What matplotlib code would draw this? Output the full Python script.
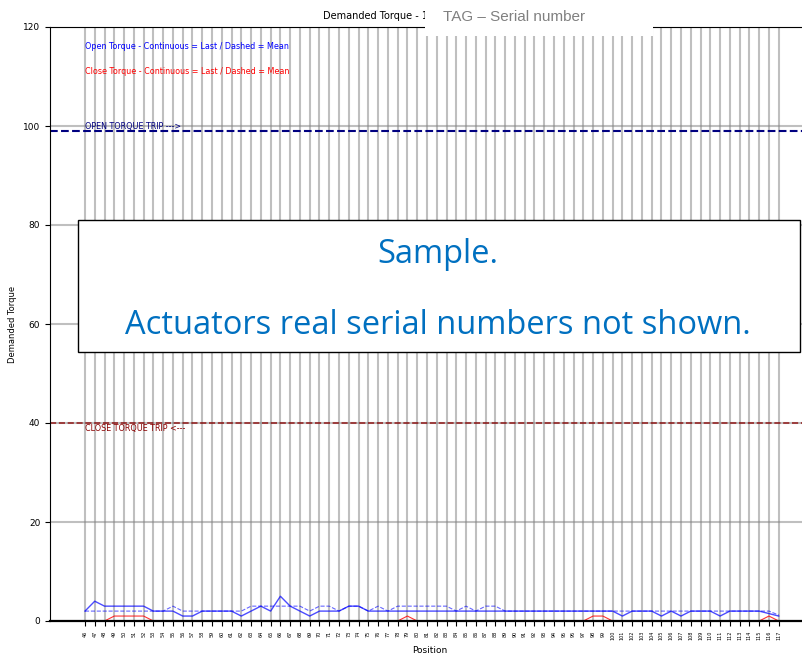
import matplotlib
matplotlib.use("Agg")
import matplotlib.pyplot as plt
from matplotlib.patches import Rectangle

positions = list(range(46, 118))

# open torque: last (continuous) and mean (dashed)
open_last = [2, 4, 3, 3, 3, 3, 3, 2, 2, 2, 1, 1, 2, 2, 2, 2, 1, 2, 3, 2, 5, 3, 2, 1,
             2, 2, 2, 3, 3, 2, 2, 2, 2, 2, 2, 2, 2, 2, 2, 2, 2, 2, 2, 2, 2, 2, 2, 2,
             2, 2, 2, 2, 2, 2, 2, 1, 2, 2, 2, 1, 2, 1, 2, 2, 2, 1, 2, 2, 2, 2, 1.5, 1]
open_mean = [2, 2, 2, 2, 2, 2, 2, 2, 2, 3, 2, 2, 2, 2, 2, 2, 2, 3, 3, 3, 3, 3, 3, 2,
             3, 3, 2, 3, 3, 2, 3, 2, 3, 3, 3, 3, 3, 3, 2, 3, 2, 3, 3, 2, 2, 2, 2, 2,
             2, 2, 2, 2, 2, 2, 2, 2, 2, 2, 2, 2, 2, 2, 2, 2, 2, 2, 2, 2, 2, 2, 2, 1.2]
# close torque
close_last = [0, 0, 0, 1, 1, 1, 1, 0, 0, 0, 0, 0, 0, 0, 0, 0, 0, 0, 0, 0, 0, 0, 0, 0,
              0, 0, 0, 0, 0, 0, 0, 0, 0, 1, 0, 0, 0, 0, 0, 0, 0, 0, 0, 0, 0, 0, 0, 0,
              0, 0, 0, 0, 1, 1, 0, 0, 0, 0, 0, 0, 0, 0, 0, 0, 0, 0, 0, 0, 0, 0, 1, 0]
close_mean = [0] * len(positions)

open_trip = 99
close_trip = 40

x = list(range(len(positions)))

fig = plt.figure(figsize=(8.03, 6.57), dpi=100)
ax = fig.add_axes([50/803, 36/657, 760/803, 594/657])

ax.plot(x, close_mean, color='red', lw=0.8, ls='--', alpha=0.8, zorder=1)
ax.plot(x, close_last, color='red', lw=0.8, alpha=0.8, zorder=1)
ax.plot(x, open_mean, color='blue', lw=0.8, ls='--', alpha=0.6, zorder=3)
ax.plot(x, open_last, color='blue', lw=1, alpha=0.7, zorder=3)

ax.axhline(open_trip, color='navy', ls='--', lw=1.5)
ax.axhline(close_trip, color='darkred', ls='--', lw=1.2, alpha=0.8)
ax.text(0, open_trip, 'OPEN TORQUE TRIP --->', color='navy', fontsize=5.8, va='bottom')
ax.text(0, close_trip - 0.3, 'CLOSE TORQUE TRIP <---', color='darkred', fontsize=5.8, va='top')
ax.text(0, 116, 'Open Torque - Continuous = Last / Dashed = Mean', color='blue', fontsize=5.8, va='center')
ax.text(0, 111, 'Close Torque - Continuous = Last / Dashed = Mean', color='red', fontsize=5.8, va='center')

ax.set_xticks(x)
ax.set_xticklabels([str(p) for p in positions], rotation=90, fontsize=3.5)
ax.set_yticks(range(0, 121, 20))
ax.tick_params(axis='y', labelsize=6.5)
ax.set_xlim(-3.58, 74.2)
ax.set_ylim(0, 120)
ax.grid(True, color='grey', alpha=0.5, lw=1.5, zorder=0)
ax.set_axisbelow(True)
ax.set_xlabel('Position', fontsize=6.5)
ax.set_ylabel('Demanded Torque', fontsize=6)
ax.spines['right'].set_visible(False)
ax.spines['bottom'].set_linewidth(1.6)
ax.spines['bottom'].set_zorder(4)

fig.text(323/803, 1 - 16/657, 'Demanded Torque - 1', fontsize=7, va='center')

# masking boxes
fig.patches.append(Rectangle((425/803, 1 - 36/657), 228/803, 36/657, transform=fig.transFigure,
                             facecolor='white', edgecolor='none', zorder=5))
fig.text(443/803, 1 - 17/657, 'TAG \u2013 Serial number', color='#808080', fontsize=11,
         family='Liberation Sans', va='center', zorder=6)
fig.patches.append(Rectangle((78/803, 1 - 352/657), 722/803, 132/657, transform=fig.transFigure,
                             facecolor='white', edgecolor='black', lw=1, zorder=5))
fig.text(438/803, 1 - 255/657, 'Sample.', color='#0070C0', fontsize=23.5, ha='center',
         va='center', family='Open Sans', zorder=6)
fig.text(438/803, 1 - 325/657, 'Actuators real serial numbers not shown.', color='#0070C0',
         fontsize=23.5, ha='center', va='center', family='Open Sans', zorder=6)

fig.savefig('out.png', dpi=100)
